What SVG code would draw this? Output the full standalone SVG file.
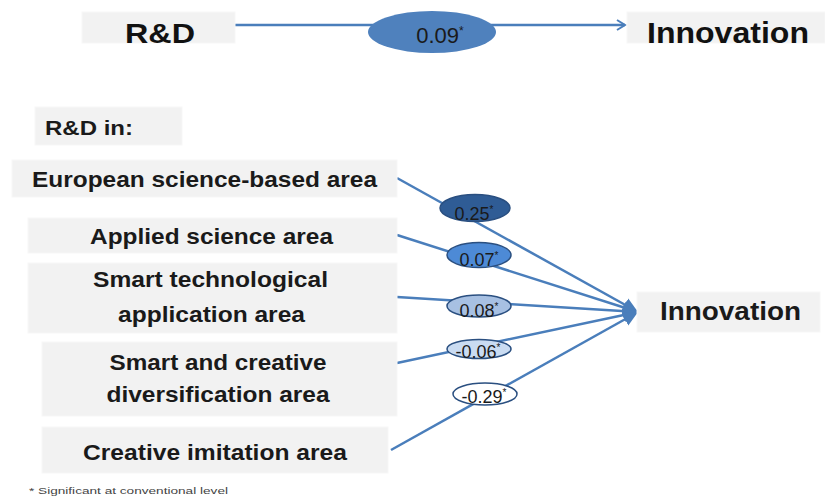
<svg xmlns="http://www.w3.org/2000/svg" width="825" height="499" viewBox="0 0 825 499">
<style>
.box{fill:#f2f2f2;stroke:#f7f7f7;stroke-width:1}
.lbl{font-family:"Liberation Sans",Arial,sans-serif;font-weight:bold;fill:#1a1a1a;text-anchor:middle}
.big{font-family:"Liberation Sans",Arial,sans-serif;fill:#111;text-anchor:middle}
.conn{stroke:#4a7ebb;stroke-width:2.5;fill:none}
.coef{stroke:#2a4f80;stroke-width:1.5}
.ct{font-family:"Liberation Sans",Arial,sans-serif;font-size:18px;fill:#1a1a1a;text-anchor:middle}
.ast{font-size:10px}
</style>
<defs>
<marker id="open" markerWidth="14" markerHeight="14" refX="11" refY="7" orient="auto" markerUnits="userSpaceOnUse">
<path d="M3,2 L11,7 L3,12" fill="none" stroke="#4a7ebb" stroke-width="2"/>
</marker>
<marker id="solid" markerWidth="18" markerHeight="18" refX="15" refY="9" orient="auto" markerUnits="userSpaceOnUse">
<path d="M0,2 L15,9 L0,16 Z" fill="#4a7ebb"/>
</marker>
</defs>

<g id="connectors">
<line class="conn" x1="235" y1="25" x2="625" y2="25" stroke-width="2" marker-end="url(#open)"/>
<line class="conn" x1="397" y1="178" x2="638" y2="312" marker-end="url(#solid)"/>
<line class="conn" x1="397" y1="235" x2="638" y2="312" marker-end="url(#solid)"/>
<line class="conn" x1="397" y1="297" x2="638" y2="312" marker-end="url(#solid)"/>
<line class="conn" x1="397" y1="363" x2="638" y2="312" marker-end="url(#solid)"/>
<line class="conn" x1="391" y1="450" x2="638" y2="312" marker-end="url(#solid)"/>
</g>

<g id="rd-top">
<rect class="box" x="82" y="12" width="153" height="31"/>
<text class="big" x="160" y="43" font-size="28" font-weight="bold" textLength="70" lengthAdjust="spacingAndGlyphs">R&amp;D</text>
</g>
<g id="coef-top">
<ellipse cx="432" cy="32" rx="64" ry="21" fill="#4f81bd"/>
<text class="ct" x="440" y="43" style="font-size:22px">0.09<tspan style="font-size:12px" dy="-8">*</tspan></text>
</g>
<g id="innovation-top">
<rect class="box" x="627" y="12" width="198" height="31"/>
<text class="big" x="728" y="43" font-size="29" font-weight="bold" textLength="162" lengthAdjust="spacingAndGlyphs">Innovation</text>
</g>

<g id="rd-in">
<rect class="box" x="35" y="107" width="147" height="38"/>
<text class="lbl" x="45" y="135" font-size="21" style="text-anchor:start" textLength="88" lengthAdjust="spacingAndGlyphs">R&amp;D in:</text>
</g>
<g id="european">
<rect class="box" x="12" y="160" width="385" height="37"/>
<text class="lbl" x="204.5" y="187" font-size="22" textLength="345" lengthAdjust="spacingAndGlyphs">European science-based area</text>
</g>
<g id="applied">
<rect class="box" x="28" y="218" width="369" height="35"/>
<text class="lbl" x="211.5" y="244" font-size="22" textLength="243" lengthAdjust="spacingAndGlyphs">Applied science area</text>
</g>
<g id="smart-tech">
<rect class="box" x="28" y="263" width="369" height="70"/>
<text class="lbl" x="210.5" y="287" font-size="22" textLength="235" lengthAdjust="spacingAndGlyphs">Smart technological</text>
<text class="lbl" x="211.5" y="322" font-size="22" textLength="187" lengthAdjust="spacingAndGlyphs">application area</text>
</g>
<g id="smart-creative">
<rect class="box" x="42" y="342" width="355" height="74"/>
<text class="lbl" x="218" y="370" font-size="22" textLength="217" lengthAdjust="spacingAndGlyphs">Smart and creative</text>
<text class="lbl" x="218" y="402" font-size="22" textLength="223" lengthAdjust="spacingAndGlyphs">diversification area</text>
</g>
<g id="creative-imitation">
<rect class="box" x="42" y="427" width="346" height="46"/>
<text class="lbl" x="215" y="460" font-size="22" textLength="264" lengthAdjust="spacingAndGlyphs">Creative imitation area</text>
</g>
<g id="innovation">
<rect class="box" x="637" y="292" width="183" height="40"/>
<text class="lbl" x="730.5" y="320" font-size="25" textLength="141" lengthAdjust="spacingAndGlyphs">Innovation</text>
</g>

<g id="coef-025">
<ellipse class="coef" cx="475" cy="208" rx="35" ry="13.5" fill="#2f5c95"/>
<text class="ct" x="474" y="220">0.25<tspan class="ast" dy="-7">*</tspan></text>
</g>
<g id="coef-007">
<ellipse class="coef" cx="479" cy="255" rx="32" ry="12.5" fill="#4d8ad6"/>
<text class="ct" x="479" y="266">0.07<tspan class="ast" dy="-7">*</tspan></text>
</g>
<g id="coef-008">
<ellipse class="coef" cx="479" cy="306" rx="32" ry="11" fill="#a7c0e2"/>
<text class="ct" x="479" y="317">0.08<tspan class="ast" dy="-7">*</tspan></text>
</g>
<g id="coef-006">
<ellipse class="coef" cx="479" cy="349" rx="32" ry="9.5" fill="#cadcf2"/>
<text class="ct" x="478" y="358">-0.06<tspan class="ast" dy="-7">*</tspan></text>
</g>
<g id="coef-029">
<ellipse class="coef" cx="485" cy="394" rx="32" ry="11" fill="#ffffff"/>
<text class="ct" x="484" y="403">-0.29<tspan class="ast" dy="-7">*</tspan></text>
</g>

<text x="29" y="494" font-family="&quot;Liberation Sans&quot;, Arial, sans-serif" font-size="9.5" fill="#444" textLength="199" lengthAdjust="spacingAndGlyphs">* Significant at conventional level</text>
</svg>
